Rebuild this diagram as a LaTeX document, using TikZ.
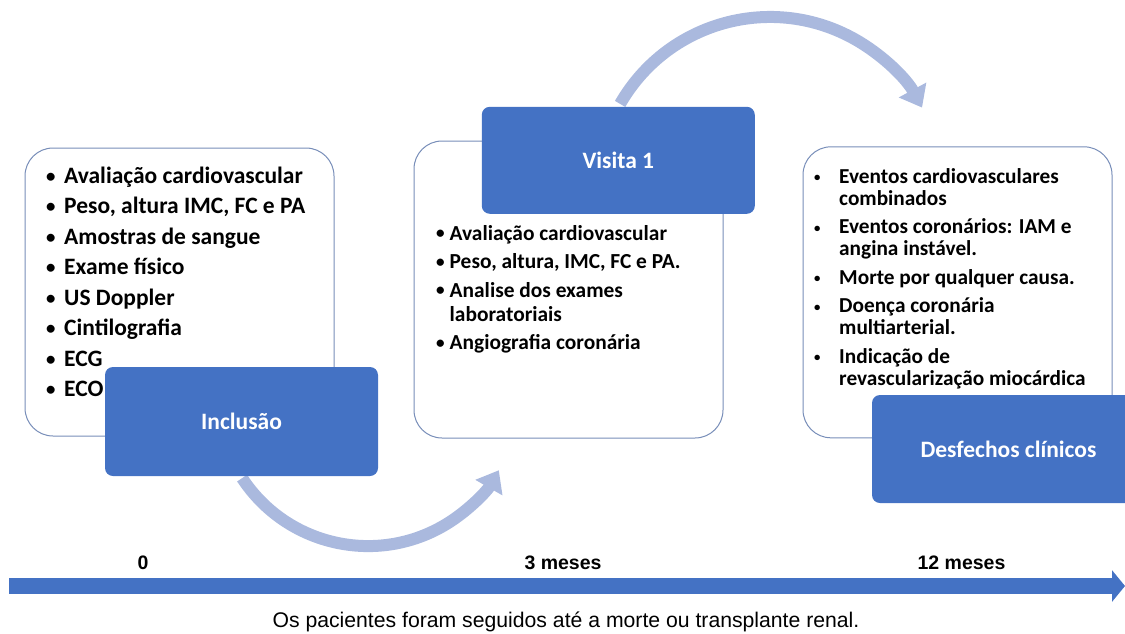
\documentclass[tikz,border=0pt]{standalone}
\usepackage{fontspec}
\setmainfont{Carlito}
\newfontfamily\arialfont{Liberation Sans}
\usetikzlibrary{arrows.meta}
\definecolor{officeblue}{HTML}{4472C4}
\definecolor{arcblue}{RGB}{170,185,222}
\definecolor{boxline}{RGB}{120,142,185}
\newlength\bw
\newcommand\bsc{0.8}
% bullet line and continuation line
\newcommand\bl[1]{\hbox{\makebox[\bw][l]{\raisebox{0.05em}{\scalebox{\bsc}{\textbullet}}}#1}}
\newcommand\cl[1]{\hbox{\hspace*{\bw}#1}}
\begin{document}
\begin{tikzpicture}[x=1pt,y=-1pt,
  wbox/.style={draw=boxline, line width=1pt, fill=white, rounded corners=28pt, inner sep=0pt},
  bbox/.style={fill=officeblue, rounded corners=8pt, text=white, inner sep=0pt,
    minimum width=273pt, font=\bfseries\fontsize{23.5}{28}\selectfont},
  listtext/.style={anchor=base west, inner sep=0pt, text=black},
  curvearrow/.style={draw=arcblue, line width=12pt, -{Triangle[length=20pt,width=30pt]}},
  tlabel/.style={font=\arialfont\bfseries\fontsize{19.5}{22}\selectfont, inner sep=0pt},
  caption/.style={font=\arialfont\fontsize{21.2}{24}\selectfont, inner sep=0pt}
]
\useasboundingbox (0,0) rectangle (1125,633);
\clip (0,0) rectangle (1125,633);

% curved arrows (behind the boxes)
\coordinate (a1s) at (242.1,478.1);
\coordinate (a2s) at (620.1,103.9);
\draw[curvearrow] (a1s) arc[start angle=146.7, end angle=29.8, radius=150.7];
\draw[curvearrow] (a2s) arc[start angle=209.8, end angle=331.6, radius=172.8];

% white boxes
\node[wbox, minimum width=309pt, minimum height=288pt] (box1) at (179.5,292) {};
\node[wbox, minimum width=309pt, minimum height=297pt] (box2) at (568.5,289.5) {};
\node[wbox, minimum width=309pt, minimum height=291pt] (box3) at (957.5,292.3) {};

% lists
\node[listtext, font=\bfseries\fontsize{23.5}{30.5}\selectfont] (list1) at (46,183.3) {%
  \vtop{\setlength\bw{18pt}\baselineskip=30.5pt
  \bl{Avaliação cardiovascular}
  \bl{Peso, altura IMC, FC e PA}
  \bl{Amostras de sangue}
  \bl{Exame físico}
  \bl{US Doppler}
  \bl{Cintilografia}
  \bl{ECG}
  \bl{ECO}}};
\node[listtext, font=\bfseries\fontsize{21.4}{24}\selectfont] (list2) at (436,240) {%
  \vtop{\setlength\bw{13.5pt}\baselineskip=24pt
  \bl{Avaliação cardiovascular}\vskip4.5pt
  \bl{Peso, altura, IMC, FC e PA.}\vskip4.5pt
  \bl{Analise dos exames}
  \cl{laboratoriais}\vskip4.5pt
  \bl{Angiografia coronária}}};
\node[listtext, font=\bfseries\fontsize{21.3}{22}\selectfont] (list3) at (814,183) {%
  \renewcommand\bsc{0.6}%
  \vtop{\setlength\bw{25pt}\baselineskip=22pt
  \bl{Eventos cardiovasculares}
  \cl{combinados}\vskip6.5pt
  \bl{Eventos coronários: IAM e}
  \cl{angina instável.}\vskip6.5pt
  \bl{Morte por qualquer causa.}\vskip6.5pt
  \bl{Doença coronária}
  \cl{multiarterial.}\vskip6.5pt
  \bl{Indicação de}
  \cl{revascularização miocárdica}}};

% blue boxes
\node[bbox, minimum height=109pt] (incl) at (241.5,421.5) {Inclusão};
\node[bbox, minimum height=107pt] (vis) at (618.3,160.3) {Visita 1};
\node[bbox, minimum height=108pt] (desf) at (1008.5,449) {Desfechos clínicos};

% timeline
\coordinate (tl0) at (9,586);
\coordinate (tl1) at (1125,586);
\draw[officeblue, line width=16pt, -{Triangle[length=13pt,width=31pt]}] (tl0) -- (tl1);
\node[tlabel] (t0) at (143,563) {0};
\node[tlabel] (t3) at (563,563) {3 meses};
\node[tlabel] (t12) at (961.5,563) {12 meses};
\node[caption] (cap) at (566,622) {Os pacientes foram seguidos até a morte ou transplante renal.};
\end{tikzpicture}
\end{document}
